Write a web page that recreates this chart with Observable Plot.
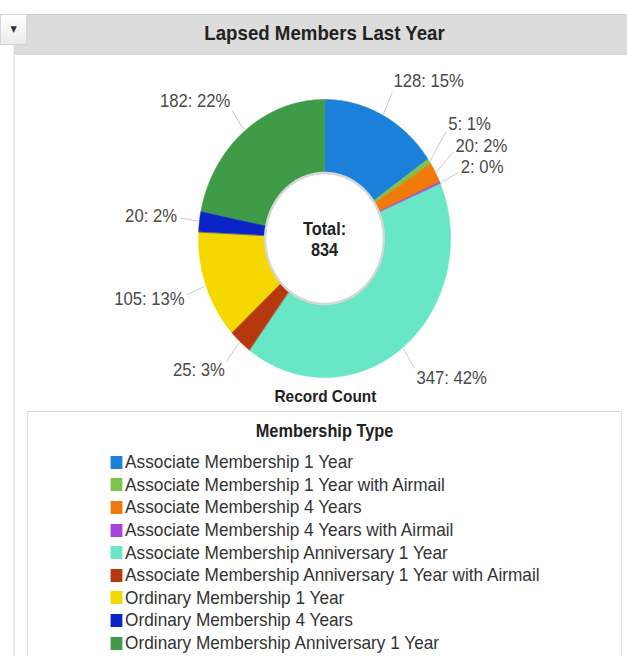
<!DOCTYPE html>
<html><head><meta charset="utf-8">
<script src="https://cdn.jsdelivr.net/npm/d3@7"></script>
<script src="https://cdn.jsdelivr.net/npm/@observablehq/plot@0.6"></script>
<style>
html,body{margin:0;padding:0;background:#fff;overflow:hidden;width:627px;height:656px;}
body{font-family:"Liberation Sans",Arial,sans-serif;color:#222;}
#wrap{position:absolute;left:0;top:0;width:692px;height:656px;transform:scaleX(0.9065);transform-origin:0 0;}
#header{position:absolute;left:15px;top:14px;width:677px;height:41px;background:#dcdcdc;border-top:1px solid #cfcfcf;box-sizing:border-box;}
#btn{position:absolute;left:0;top:14px;width:30px;height:31px;box-sizing:border-box;border:1px solid #d4d4d4;background:linear-gradient(#ffffff,#ececec);font-family:"DejaVu Sans",sans-serif;font-size:9px;color:#333;text-align:center;line-height:29px;}
#title{position:absolute;left:358px;top:22px;transform:translateX(-50%);white-space:nowrap;font-weight:bold;font-size:20.6px;line-height:22px;color:#222;}
#vline{position:absolute;left:15px;top:55px;width:1px;height:610px;background:#d0d0d0;}
#chart{position:absolute;left:0;top:55px;}
#measure{position:absolute;left:359px;top:387px;transform:translateX(-50%);white-space:nowrap;font-weight:bold;font-size:17px;line-height:20px;color:#222;}
#legend{position:absolute;left:30px;top:411px;width:656px;height:270px;box-sizing:border-box;border:1px solid #d8d8d8;background:#fff;}
#legend-title{position:absolute;left:0;width:100%;top:8px;text-align:center;font-weight:bold;font-size:18px;line-height:22px;color:#222;}
#items{position:absolute;left:91px;top:39px;}
.item{display:flex;align-items:center;height:22.6px;font-size:19px;color:#333;white-space:nowrap;}
.sw{width:13px;height:13px;margin-right:3px;flex:none;}
</style></head><body>
<div id="wrap">
  <div id="header"></div>
  <div id="btn">▼</div>
  <div id="title"></div>
  <div id="vline"></div>
  <div id="chart"></div>
  <div id="measure"></div>
  <div id="legend"><div id="legend-title"></div><div id="items"></div></div>
</div>
<script>
const chartTitle = "Lapsed Members Last Year";
const measureLabel = "Record Count";
const legendTitle = "Membership Type";
const totalLabel = "Total:";
const categories = [
  "Associate Membership 1 Year",
  "Associate Membership 1 Year with Airmail",
  "Associate Membership 4 Years",
  "Associate Membership 4 Years with Airmail",
  "Associate Membership Anniversary 1 Year",
  "Associate Membership Anniversary 1 Year with Airmail",
  "Ordinary Membership 1 Year",
  "Ordinary Membership 4 Years",
  "Ordinary Membership Anniversary 1 Year"
];
const values = [128, 5, 20, 2, 347, 25, 105, 20, 182];
const colors = ["#1b80da", "#7cc44e", "#ee7a0c", "#a544d8", "#68e6c6", "#b7380f", "#f4d800", "#0b24c8", "#3f9b48"];

document.getElementById("title").textContent = chartTitle;
document.getElementById("measure").textContent = measureLabel;
document.getElementById("legend-title").textContent = legendTitle;
const items = document.getElementById("items");
categories.forEach((c, i) => {
  const row = document.createElement("div"); row.className = "item";
  const sw = document.createElement("span"); sw.className = "sw"; sw.style.background = colors[i];
  const t = document.createElement("span"); t.textContent = c;
  row.appendChild(sw); row.appendChild(t); items.appendChild(row);
});

const total = d3.sum(values);
const R = 139, r0 = 65, kL = 164, gap = 21.5;
let cum = 0;
const slices = categories.map((c, i) => {
  const a0 = cum / total * 2 * Math.PI; cum += values[i];
  const a1 = cum / total * 2 * Math.PI;
  return {c, v: values[i], a0, a1, mid: (a0 + a1) / 2};
});
const pts = [];
for (const s of slices) {
  const n = Math.max(2, Math.ceil((s.a1 - s.a0) / (Math.PI / 360)));
  for (let j = 0; j <= n; j++) { const a = s.a0 + (s.a1 - s.a0) * j / n; pts.push({c: s.c, x: R * Math.sin(a), y: -R * Math.cos(a)}); }
  for (let j = n; j >= 0; j--) { const a = s.a0 + (s.a1 - s.a0) * j / n; pts.push({c: s.c, x: r0 * Math.sin(a), y: -r0 * Math.cos(a)}); }
}
const ring = d3.range(0, 361, 1).map(d => ({x: (r0 + 0.5) * Math.sin(d * Math.PI / 180), y: -(r0 + 0.5) * Math.cos(d * Math.PI / 180)}));

const labels = slices.map(s => {
  const sn = Math.sin(s.mid), cs = Math.cos(s.mid);
  return {text: `${s.v}: ${Math.round(s.v / total * 100)}%`, right: sn >= 0, sn, cs,
    ex: (R + 1) * sn, ey: -(R + 1) * cs, tx: kL * sn, ty: -kL * cs - 14 * cs};
});
for (const side of [true, false]) {
  const L = labels.filter(d => d.right === side).sort((a, b) => b.ty - a.ty);
  for (let i = 1; i < L.length; i++) if (L[i].ty > L[i - 1].ty - gap) L[i].ty = L[i - 1].ty - gap;
}
labels.forEach(d => { d.lx = d.tx - 3 * d.sn; d.ly = d.ty + 13 * d.cs; });
const center = [{x: 0, y: 0, text: `${totalLabel}\n${total}`}];

const W = 692, H = 345, cx = 357.5, cy = 183;
const chart = Plot.plot({
  width: W, height: H, margin: 0,
  x: {domain: [-cx, W - cx], range: [0, W], axis: null},
  y: {domain: [-cy, H - cy], range: [0, H], axis: null},
  color: {domain: categories, range: colors},
  style: {fontFamily: "Liberation Sans, Arial, sans-serif", background: "transparent", overflow: "visible"},
  marks: [
    Plot.line(pts, {x: "x", y: "y", z: "c", fill: "c", stroke: "c", strokeWidth: 0.6, curve: "linear-closed"}),
    Plot.line(ring, {x: "x", y: "y", stroke: "#d6d6d6", strokeWidth: 2.5, curve: "linear-closed"}),
    Plot.link(labels, {x1: "ex", y1: "ey", x2: "lx", y2: "ly", stroke: "#c8c8c8", strokeWidth: 1}),
    Plot.text(labels.filter(d => d.right), {x: "tx", y: "ty", text: "text", textAnchor: "start", fontSize: 18.4, fill: "#4a4a4a"}),
    Plot.text(labels.filter(d => !d.right), {x: "tx", y: "ty", text: "text", textAnchor: "end", fontSize: 18.4, fill: "#4a4a4a"}),
    Plot.text(center, {x: "x", y: "y", text: "text", fontSize: 18, fontWeight: "bold", fill: "#222", lineHeight: 1.2})
  ]
});
document.getElementById("chart").appendChild(chart);
</script>
</body></html>
